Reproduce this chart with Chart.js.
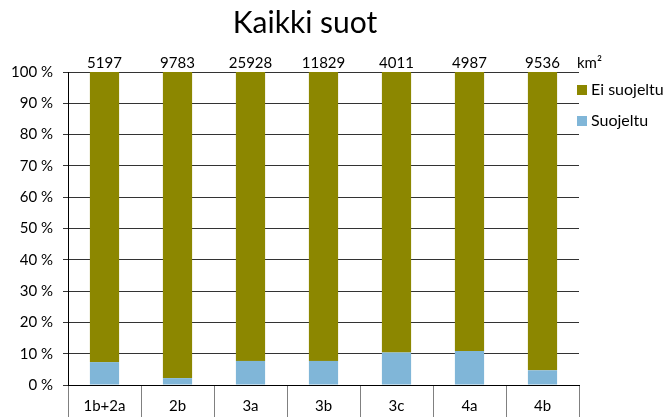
<!DOCTYPE html>
<html>
<head>
<meta charset="utf-8">
<script src="https://cdn.jsdelivr.net/npm/chart.js@4/dist/chart.umd.min.js"></script>
<style>
  html, body { margin: 0; padding: 0; background: #fff; }
  #wrap { width: 667px; height: 417px; position: relative; }
</style>
</head>
<body>
<div id="wrap"><canvas id="chart"></canvas></div>
<script>
// Data
const categories = ['1b+2a', '2b', '3a', '3b', '3c', '4a', '4b'];
const areaKm2 = ['5197', '9783', '25928', '11829', '4011', '4987', '9536'];
const suojeltu = [7.3, 2.2, 7.7, 7.7, 10.4, 10.9, 4.7];
const eiSuojeltu = [92.7, 97.8, 92.3, 92.3, 89.6, 89.1, 95.3];
const yTicks = [0, 10, 20, 30, 40, 50, 60, 70, 80, 90, 100];

const FONT = 'Lato, "DejaVu Sans", sans-serif';
const OLIVE = '#8c8700';
const BLUE = '#80b6d8';

// Title, km² row and legend drawn around the plot
const extras = {
  id: 'extras',
  afterDraw(chart) {
    const ctx = chart.ctx;
    const x = chart.scales.x;
    ctx.save();
    ctx.fillStyle = '#000';
    ctx.textBaseline = 'middle';

    ctx.font = '30px ' + FONT;
    ctx.textAlign = 'center';
    ctx.fillText('Kaikki suot', 305, 23);

    ctx.font = '15px ' + FONT;
    areaKm2.forEach((v, i) => {
      ctx.fillText(v, x.getPixelForValue(i), 63);
    });
    ctx.textAlign = 'left';
    ctx.fillText('km²', 577, 63);

    // legend
    ctx.font = '16px ' + FONT;
    ctx.fillStyle = OLIVE;
    ctx.fillRect(577, 85, 10, 10);
    ctx.fillStyle = '#000';
    ctx.fillText('Ei suojeltu', 591, 90);
    ctx.fillStyle = BLUE;
    ctx.fillRect(577, 116, 10, 10);
    ctx.fillStyle = '#000';
    ctx.fillText('Suojeltu', 591, 121);
    ctx.restore();
  }
};

new Chart(document.getElementById('chart'), {
  type: 'bar',
  data: {
    labels: categories,
    datasets: [
      { label: 'Suojeltu', data: suojeltu, backgroundColor: BLUE },
      { label: 'Ei suojeltu', data: eiSuojeltu, backgroundColor: OLIVE }
    ]
  },
  options: {
    responsive: true,
    maintainAspectRatio: false,
    animation: false,
    layout: { padding: { left: 0, right: 88, top: 72, bottom: 0 } },
    datasets: { bar: { barPercentage: 0.4, categoryPercentage: 1.0 } },
    plugins: {
      legend: { display: false },
      title: { display: false },
      tooltip: { enabled: false }
    },
    scales: {
      x: {
        stacked: true,
        grid: { offset: true, drawOnChartArea: false, tickLength: 32, color: '#808080' },
        border: { color: '#000' },
        ticks: { color: '#000', font: { family: FONT, size: 15 }, padding: -20, maxRotation: 0 },
        afterFit(scale) { scale.height = 32; }
      },
      y: {
        stacked: true,
        min: 0,
        max: 100,
        afterBuildTicks(scale) { scale.ticks = yTicks.map(v => ({ value: v })); },
        grid: { color: '#333', tickLength: 5 },
        border: { color: '#000' },
        ticks: {
          color: '#000',
          font: { family: FONT, size: 15 },
          padding: 10,
          callback: v => v + ' %'
        },
        afterFit(scale) { scale.width = 68; }
      }
    }
  },
  plugins: [extras]
});
</script>
</body>
</html>
